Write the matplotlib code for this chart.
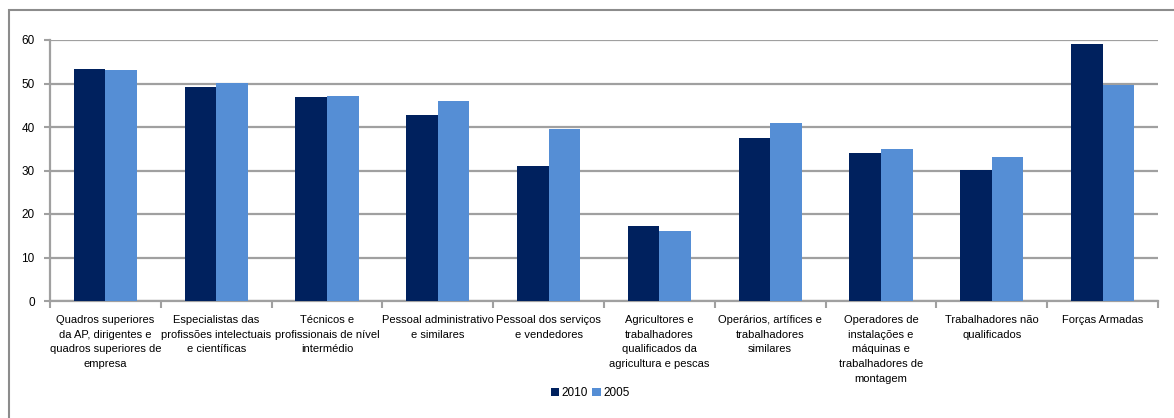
import matplotlib
matplotlib.use("Agg")
import matplotlib.pyplot as plt
import numpy as np
from matplotlib.patches import Rectangle

NAVY = "#00215E"
LIGHT_BLUE = "#558ED5"
GRID = "#A0A0A0"
FRAME = "#8C8C8C"

plt.rcParams.update({
    "font.family": ["Liberation Sans", "DejaVu Sans"],
    "font.size": 8,
})

categories = [
    "Quadros superiores\nda AP, dirigentes e\nquadros superiores de\nempresa",
    "Especialistas das\nprofissões intelectuais\ne científicas",
    "Técnicos e\nprofissionais de nível\nintermédio",
    "Pessoal administrativo\ne similares",
    "Pessoal dos serviços\ne vendedores",
    "Agricultores e\ntrabalhadores\nqualificados da\nagricultura e pescas",
    "Operários, artífices e\ntrabalhadores\nsimilares",
    "Operadores de\ninstalações e\nmáquinas e\ntrabalhadores de\nmontagem",
    "Trabalhadores não\nqualificados",
    "Forças Armadas",
]
values_2010 = [53.3, 49.2, 46.9, 42.8, 31.0, 17.2, 37.5, 34.0, 30.1, 59.1]
values_2005 = [53.0, 50.1, 47.1, 46.0, 39.5, 16.1, 40.9, 34.9, 33.1, 49.7]
yticks = [0, 10, 20, 30, 40, 50, 60]

fig = plt.figure(figsize=(11.74, 4.18), dpi=100)
fig.patch.set_facecolor("white")
fig.add_artist(Rectangle((9 / 1174, -0.05), 1.2, 1 - 10 / 418 + 0.05,
                         transform=fig.transFigure, fill=False,
                         edgecolor=FRAME, linewidth=1.5))

ax = fig.add_axes([50 / 1174, 1 - 301 / 418, 1108 / 1174, 261 / 418])
x = np.arange(len(categories))
w = 0.285
ax.bar(x - w / 2, values_2010, width=w, color=NAVY, label="2010", zorder=3)
ax.bar(x + w / 2, values_2005, width=w, color=LIGHT_BLUE, label="2005", zorder=3)

ax.set_xlim(-0.5, len(categories) - 0.5)
ax.set_ylim(0, 60)
ax.set_yticks(yticks)
ax.set_xticks(x)
ax.set_xticklabels(categories, fontsize=8.0, linespacing=1.6, va="top")
ax.set_xticks(np.arange(len(categories) + 1) - 0.5, minor=True)
ax.tick_params(axis="x", which="major", length=0, pad=10)
ax.tick_params(axis="x", which="minor", length=5, width=1.5, color=GRID, direction="out")
ax.tick_params(axis="y", length=4, width=1.5, color=GRID, labelsize=8.5, pad=7)

ax.grid(axis="y", color=GRID, linewidth=1.6, zorder=0)
for side in ["top", "right"]:
    ax.spines[side].set_visible(False)
for side in ["left", "bottom"]:
    ax.spines[side].set_color(GRID)
    ax.spines[side].set_linewidth(1.6)

fig.legend(loc="center", bbox_to_anchor=(590 / 1174, 1 - 393 / 418), ncol=2,
           frameon=False, handlelength=0.7, handleheight=0.7, handletextpad=0.2,
           columnspacing=0.4, fontsize=8.5)

fig.savefig("out.png", dpi=100, facecolor="white")
